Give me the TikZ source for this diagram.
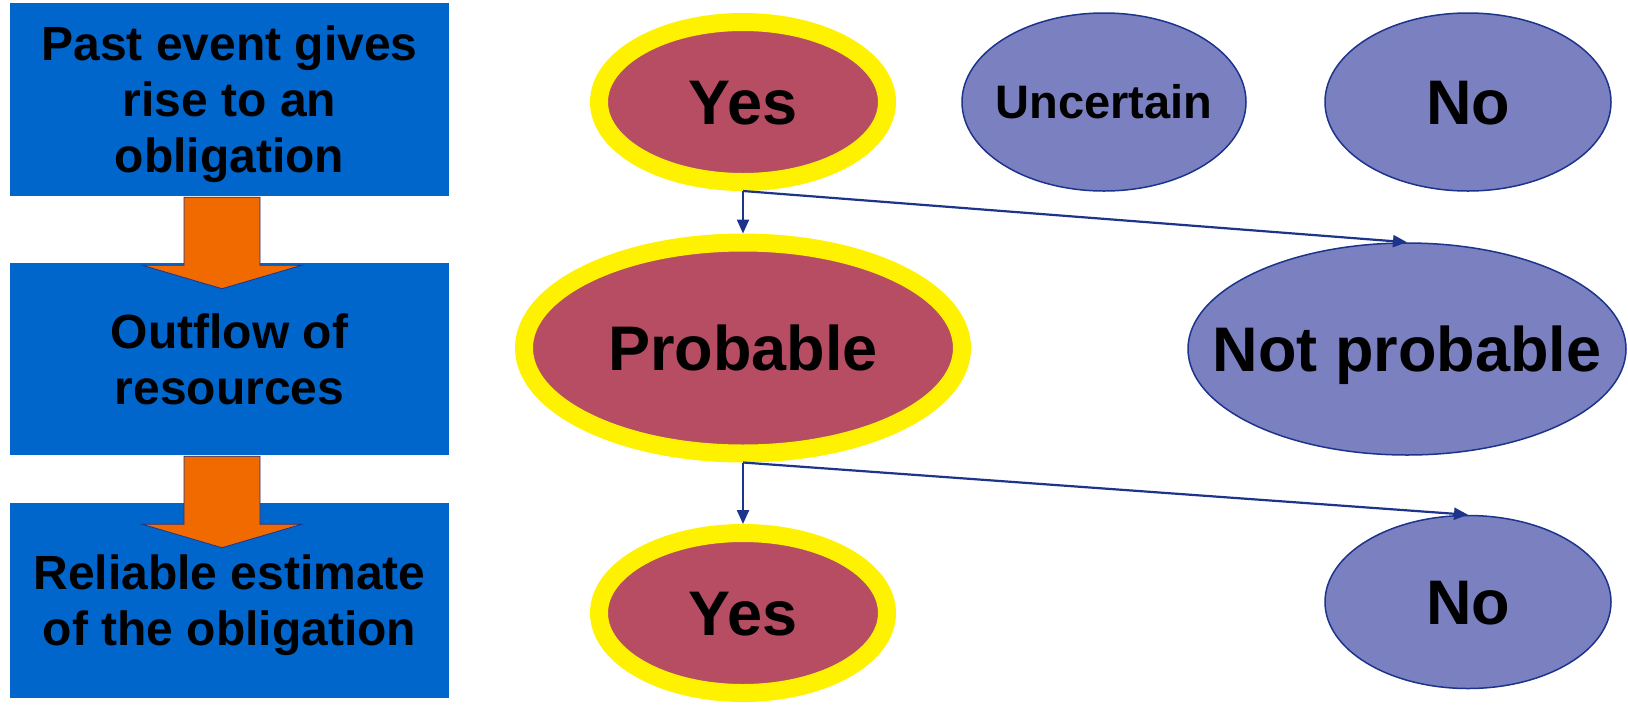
\documentclass[tikz,border=0pt]{standalone}
\usepackage{fontspec}
\setmainfont{Liberation Sans}
\usetikzlibrary{shapes.geometric,arrows.meta}
\definecolor{boxblue}{RGB}{0,102,204}
\definecolor{crimson}{RGB}{182,77,99}
\definecolor{peri}{RGB}{122,128,192}
\definecolor{navy}{RGB}{28,52,140}
\definecolor{orng}{RGB}{240,106,0}
\begin{document}
\begin{tikzpicture}[x=1pt,y=-1pt,
  blockbox/.style={rectangle, fill=boxblue, inner sep=0pt, minimum width=439pt, align=center,
    font=\fontsize{48}{56}\selectfont\bfseries, text depth=0pt},
  yesell/.style={ellipse, fill=crimson, draw=yellow, line width=18pt, inner sep=0pt},
  noell/.style={ellipse, fill=peri, draw=navy, line width=1.5pt, inner sep=0pt},
  big/.style={font=\fontsize{63}{70}\selectfont\bfseries, text height=45pt, text depth=0pt},
  mid/.style={font=\fontsize{47}{54}\selectfont\bfseries, text height=33.6pt, text depth=0pt},
  conn/.style={draw=navy, line width=2.2pt, -{Triangle[length=14pt,width=12pt]}},
  bigarrow/.style={fill=orng, draw=navy, line width=0.8pt, line join=miter}
]
\useasboundingbox (0,0) rectangle (1628,705);
\fill[white] (0,0) rectangle (1628,705);

\node[blockbox, minimum height=193pt] (b1) at (229.5,99.5) {Past event gives\\rise to an\\obligation};
\node[blockbox, minimum height=192pt] (b2) at (229.5,359) {Outflow of\\resources};
\node[blockbox, minimum height=195pt] (b3) at (229.5,600.5) {Reliable estimate\\of the obligation};

\draw[bigarrow] ([shift={(-45.5,1)}]b1.south) -- ++(76,0) -- ++(0,68) -- ++(42,0) -- ++(-80,23.5) -- ++(-80,-23.5) -- ++(42,0) -- cycle;
\draw[bigarrow] ([shift={(-45.5,1)}]b2.south) -- ++(76,0) -- ++(0,68) -- ++(42,0) -- ++(-80,23.5) -- ++(-80,-23.5) -- ++(42,0) -- cycle;

\node[yesell, minimum width=288pt, minimum height=160pt, big] (yes1) at (743,102) {\makebox[0pt]{Yes}};
\node[noell, minimum width=284pt, minimum height=178pt, mid] (unc) at (1104,102) {\makebox[0pt]{Uncertain}};
\node[noell, minimum width=286pt, minimum height=178pt, big] (no1) at (1468,102) {\makebox[0pt]{No}};
\node[yesell, minimum width=438pt, minimum height=211pt, big] (prob) at (743,348) {\makebox[0pt]{Probable}};
\node[noell, minimum width=438pt, minimum height=212pt, big] (notprob) at (1407,349) {\makebox[0pt]{Not probable}};
\node[yesell, minimum width=288pt, minimum height=160pt, big] (yes2) at (743,613) {\makebox[0pt]{Yes}};
\node[noell, minimum width=286pt, minimum height=173pt, big] (no2) at (1468,602) {\makebox[0pt]{No}};

\draw[conn] (yes1.south) -- (prob.north);
\draw[conn] (yes1.south) -- (notprob.north);
\draw[conn] (prob.south) -- (yes2.north);
\draw[conn] (prob.south) -- (no2.north);
\end{tikzpicture}
\end{document}
